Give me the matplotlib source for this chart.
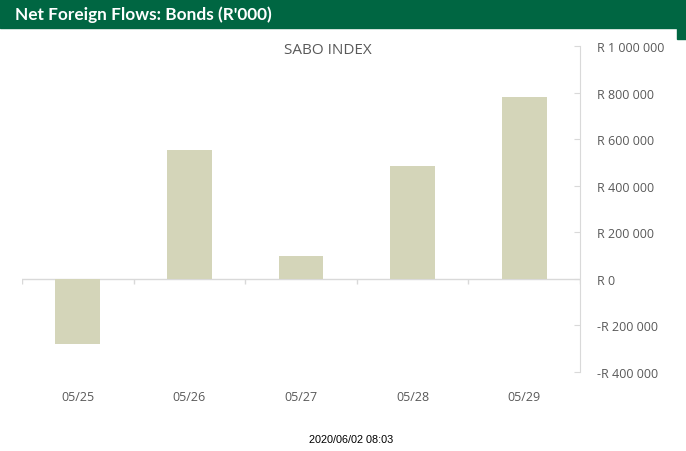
import matplotlib.pyplot as plt
from matplotlib.ticker import FuncFormatter

# data
dates = ['05/25', '05/26', '05/27', '05/28', '05/29']
flows = [-279000, 553000, 99000, 485000, 781000]
yticks = [-400000, -200000, 0, 200000, 400000, 600000, 800000, 1000000]

green = '#006642'
bar_col = '#D4D5B9'
line_col = '#D9D9D9'

fig = plt.figure(figsize=(6.86, 4.52), dpi=100)

# header band
fig.patches.append(plt.Rectangle((0, 1 - 29 / 452), 1, 29 / 452, transform=fig.transFigure,
                                 color=green, zorder=0))
fig.patches.append(plt.Rectangle((677 / 686, 1 - 40 / 452), 9 / 686, 40 / 452, transform=fig.transFigure,
                                 color=green, zorder=0))
fig.text(15 / 686, 1 - 15 / 452, "Net Foreign Flows: Bonds (R'000)", color='white',
         fontsize=12.4, fontweight='bold', family='Lato', va='center', ha='left')

ax = fig.add_axes([22 / 686, 1 - 373 / 452, 558 / 686, 326 / 452])
x = range(len(dates))
ax.bar(x, flows, width=0.4, color=bar_col, zorder=2)
ax.set_xlim(-0.5, len(dates) - 0.5)
ax.set_ylim(-400000, 1000000)

# zero line and category separators
ax.axhline(0, color=line_col, lw=1, zorder=1)
ax.vlines([i - 0.5 for i in range(len(dates) + 1)], -20000, 0, color=line_col, lw=1, zorder=1)

for s in ['top', 'left', 'bottom']:
    ax.spines[s].set_visible(False)
ax.spines['right'].set_color(line_col)

ax.yaxis.tick_right()
ax.set_yticks(yticks)

def rand(v, pos):
    s = f'{abs(int(v)):,}'.replace(',', ' ')
    return ('-R ' if v < 0 else 'R ') + s

ax.yaxis.set_major_formatter(FuncFormatter(rand))
ax.tick_params(axis='y', direction='in', length=4, color=line_col, pad=12,
               labelsize=9, labelcolor='#595959')
ax.set_xticks(list(x))
ax.set_xticklabels(dates)
ax.tick_params(axis='x', length=0, pad=13, labelsize=9, labelcolor='#595959')
for lab in ax.get_xticklabels() + ax.get_yticklabels():
    lab.set_family('Open Sans')

fig.text(328 / 686, 1 - 50 / 452, 'SABO INDEX', ha='center', va='center', fontsize=11,
         color='#595959', family='Open Sans')
fig.text(351 / 686, 1 - 440 / 452, '2020/06/02 08:03', ha='center', va='center', fontsize=7.8,
         color='black', family='Liberation Sans')

fig.savefig('out.png', dpi=100)
